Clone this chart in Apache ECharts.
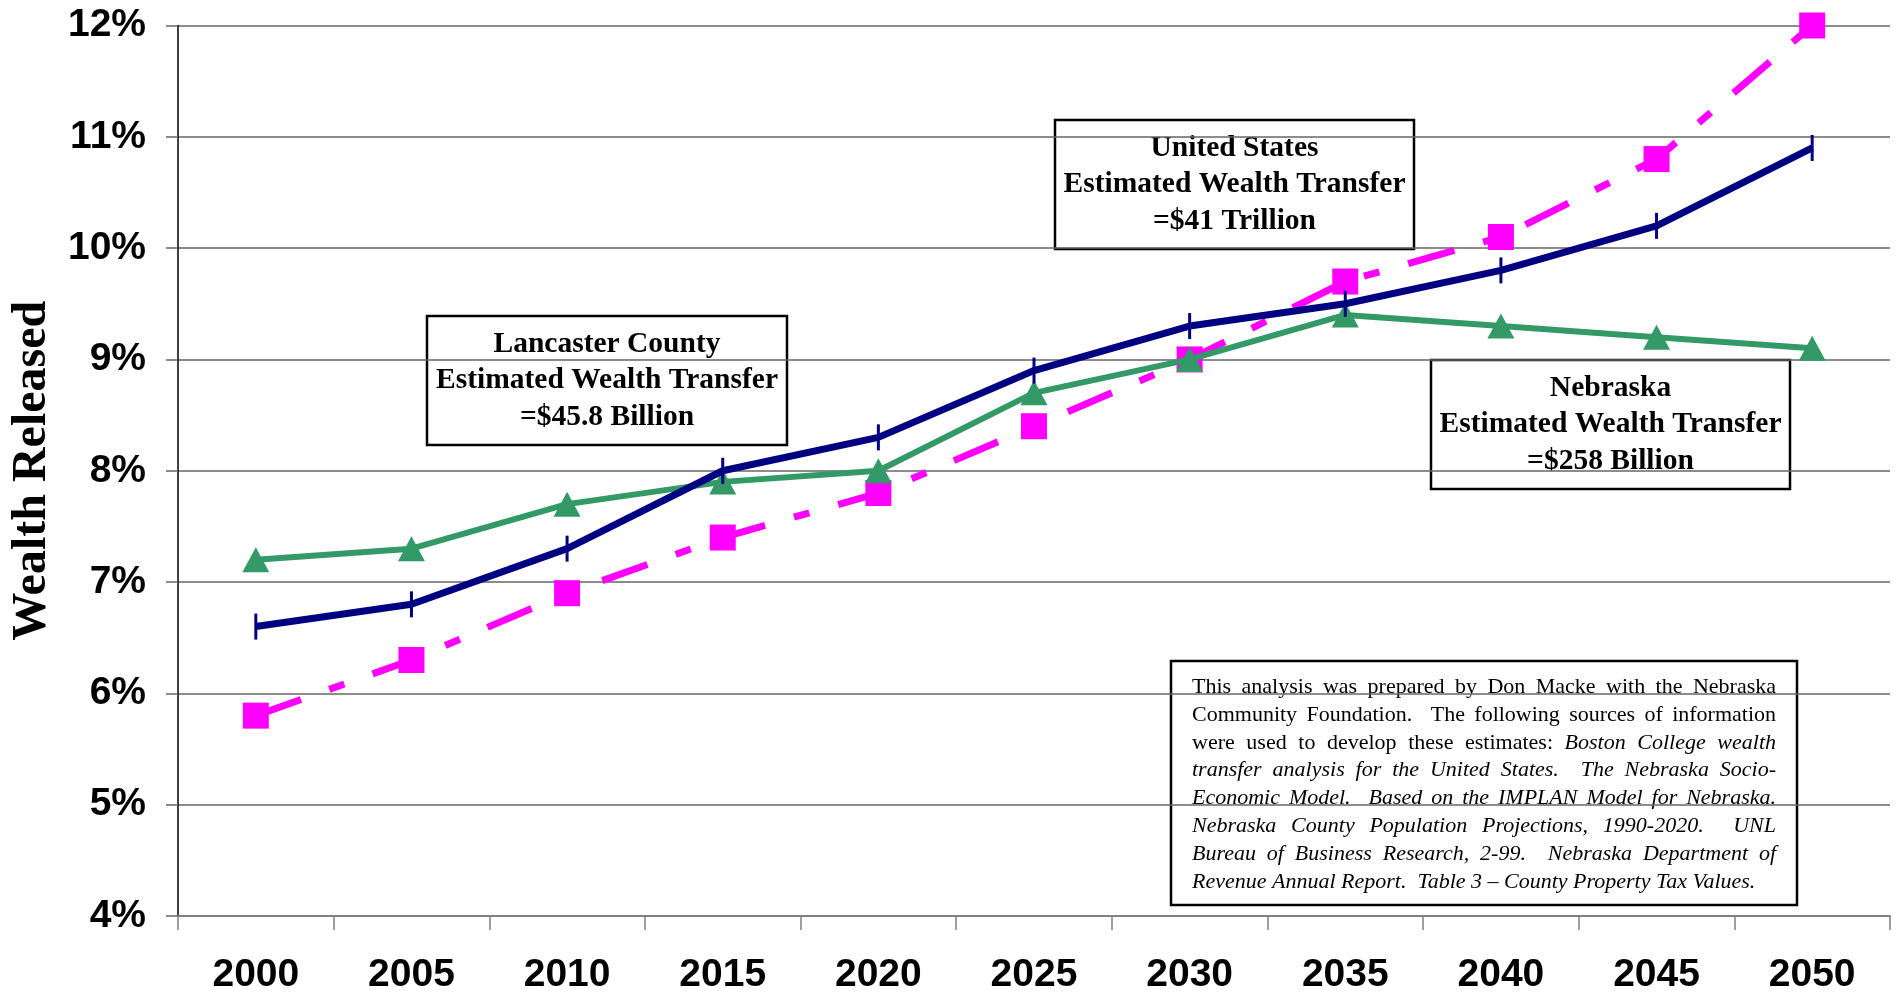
<!DOCTYPE html>
<html>
<head>
<meta charset="utf-8">
<script src="https://cdn.jsdelivr.net/npm/echarts@6/dist/echarts.min.js"></script>
<style>
  html, body { margin: 0; padding: 0; background: #fff; }
  #chart { width: 1898px; height: 995px; }
</style>
</head>
<body>
<div id="chart"></div>
<script>
// data
var years = ["2000", "2005", "2010", "2015", "2020", "2025", "2030", "2035", "2040", "2045", "2050"];
var unitedStates = [6.6, 6.8, 7.3, 8.0, 8.3, 8.9, 9.3, 9.5, 9.8, 10.2, 10.9];
var nebraska = [7.2, 7.3, 7.7, 7.9, 8.0, 8.7, 9.0, 9.4, 9.3, 9.2, 9.1];
var lancaster = [5.8, 6.3, 6.9, 7.4, 7.8, 8.4, 9.0, 9.7, 10.1, 10.8, 12.0];

var lancasterBox = ["Lancaster County", "Estimated Wealth Transfer", "=$45.8 Billion"];
var usBox = ["United States", "Estimated Wealth Transfer", "=$41 Trillion"];
var nebraskaBox = ["Nebraska", "Estimated Wealth Transfer", "=$258 Billion"];

// note text, r = regular, i = italic
var noteLines = [
  [["r", "This analysis was prepared by Don Macke with the Nebraska"]],
  [["r", "Community Foundation.  The following sources of information"]],
  [["r", "were used to develop these estimates: "], ["i", "Boston College wealth"]],
  [["i", "transfer analysis for the United States.  The Nebraska Socio-"]],
  [["i", "Economic Model.  Based on the IMPLAN Model for Nebraska."]],
  [["i", "Nebraska County Population Projections, 1990-2020.  UNL"]],
  [["i", "Bureau of Business Research, 2-99.  Nebraska Department of"]],
  [["i", "Revenue Annual Report.  Table 3 \u2013 County Property Tax Values."]]
];

var serif = "'Liberation Serif', 'Times New Roman', serif";
var sans = "'Liberation Sans', Arial, sans-serif";

function labelBox(lines, x1, y1, x2, y2) {
  return {
    type: "group",
    z: 10,
    children: [
      {
        type: "rect",
        shape: { x: x1, y: y1, width: x2 - x1, height: y2 - y1 },
        style: { fill: "#fff", stroke: "#000", lineWidth: 2.5 }
      },
      {
        type: "text",
        x: (x1 + x2) / 2,
        y: (y1 + y2) / 2,
        style: {
          text: lines.join("\n"),
          fontFamily: serif,
          fontWeight: "bold",
          fontSize: 29.5,
          lineHeight: 36.5,
          fill: "#000",
          align: "center",
          verticalAlign: "middle"
        }
      }
    ]
  };
}

// justified note, one text element per word
function noteBox(x1, y1, x2, y2) {
  var left = 1192, width = 584, top = 687, step = 27.9, size = 22;
  var ctx = document.createElement("canvas").getContext("2d");
  var children = [
    {
      type: "rect",
      shape: { x: x1, y: y1, width: x2 - x1, height: y2 - y1 },
      style: { fill: "#fff", stroke: "#000", lineWidth: 2.5 }
    }
  ];
  noteLines.forEach(function (line, li) {
    var words = [];
    line.forEach(function (seg) {
      seg[1].split(" ").forEach(function (w, wi, arr) {
        if (w === "" && wi === arr.length - 1) return;
        words.push({ t: w, italic: seg[0] === "i" });
      });
    });
    var total = 0;
    words.forEach(function (w) {
      ctx.font = (w.italic ? "italic " : "") + size + "px " + serif;
      w.w = ctx.measureText(w.t).width;
      total += w.w;
    });
    ctx.font = size + "px " + serif;
    var gap = ctx.measureText(" ").width;
    if (li < noteLines.length - 1) gap = (width - total) / (words.length - 1);
    var x = left;
    words.forEach(function (w) {
      if (w.t !== "") {
        children.push({
          type: "text",
          x: x,
          y: top + li * step,
          style: {
            text: w.t,
            fontFamily: serif,
            fontStyle: w.italic ? "italic" : "normal",
            fontSize: size,
            fill: "#000",
            verticalAlign: "middle"
          }
        });
      }
      x += w.w + gap;
    });
  });
  return { type: "group", z: 10, children: children };
}

var myChart = echarts.init(document.getElementById("chart"));
var option = {
  backgroundColor: "#fff",
  animation: false,
  grid: { left: 178, right: 8, top: 25.5, bottom: 79, containLabel: false },
  xAxis: {
    type: "category",
    data: years,
    boundaryGap: true,
    axisLine: { lineStyle: { color: "#808080", width: 2 } },
    axisTick: { show: true, length: 14, lineStyle: { color: "#808080", width: 1.5 } },
    axisLabel: {
      margin: 40,
      color: "#000",
      fontFamily: sans,
      fontWeight: "bold",
      fontSize: 39
    },
    splitLine: { show: false }
  },
  yAxis: {
    type: "value",
    min: 4,
    max: 12,
    interval: 1,
    name: "Wealth Released",
    nameLocation: "middle",
    nameGap: 118,
    nameRotate: 90,
    nameTextStyle: {
      fontFamily: serif,
      fontWeight: "bold",
      fontSize: 48,
      color: "#000"
    },
    axisLine: { show: true, lineStyle: { color: "#000", width: 1.5 } },
    axisTick: { show: true, length: 12, lineStyle: { color: "#666", width: 1.5 } },
    axisLabel: {
      margin: 32,
      formatter: "{value}%",
      color: "#000",
      fontFamily: sans,
      fontWeight: "bold",
      fontSize: 39
    },
    splitLine: { show: true, lineStyle: { color: "#666", width: 1.5 } }
  },
  series: [
    {
      name: "Lancaster County",
      type: "line",
      data: lancaster,
      symbol: "rect",
      symbolSize: 26,
      z: 2,
      itemStyle: { color: "#ff00ff" },
      lineStyle: { color: "#ff00ff", width: 7, type: [48, 30, 16, 30] }
    },
    {
      name: "Nebraska",
      type: "line",
      data: nebraska,
      symbol: "triangle",
      symbolSize: [27, 25],
      z: 3,
      itemStyle: { color: "#339966" },
      lineStyle: { color: "#339966", width: 6 }
    },
    {
      name: "United States",
      type: "line",
      data: unitedStates,
      symbol: "rect",
      symbolSize: [3, 26],
      z: 4,
      itemStyle: { color: "#000080" },
      lineStyle: { color: "#000080", width: 7 }
    }
  ],
  graphic: [
    labelBox(lancasterBox, 427, 316, 787, 445),
    labelBox(usBox, 1055, 120, 1414, 249),
    labelBox(nebraskaBox, 1431, 360, 1790, 489),
    noteBox(1171, 661, 1797, 905)
  ]
};

myChart.setOption(option);
window.addEventListener("resize", function () {
  myChart.resize();
});
</script>
</body>
</html>
